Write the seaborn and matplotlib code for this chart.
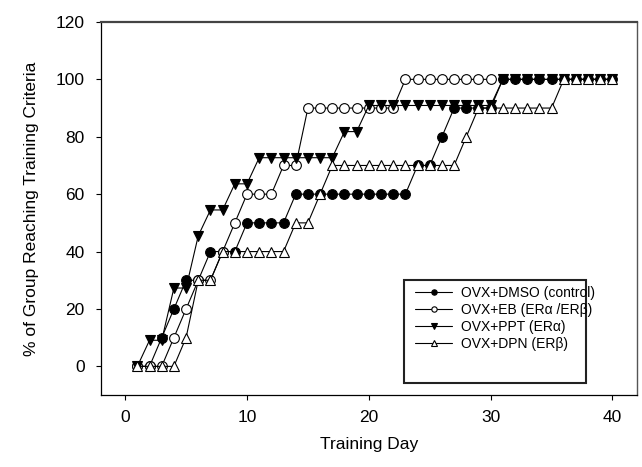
import matplotlib
matplotlib.use("Agg")
import matplotlib.pyplot as plt
from matplotlib.patches import Rectangle
import seaborn as sns

# training days (EB group was only followed up to day 30)
days_40 = [1, 2, 3, 4, 5, 6, 7, 8, 9, 10, 11, 12, 13, 14, 15, 16, 17, 18, 19, 20,
           21, 22, 23, 24, 25, 26, 27, 28, 29, 30, 31, 32, 33, 34, 35, 36, 37, 38, 39, 40]
days_30 = days_40[:30]

# % of group reaching training criteria
dmso = [0, 0, 10, 20, 30, 30, 40, 40, 40, 50, 50, 50, 50, 60, 60, 60, 60, 60, 60, 60,
        60, 60, 60, 70, 70, 80, 90, 90, 90, 90, 100, 100, 100, 100, 100, 100, 100, 100, 100, 100]
eb = [0, 0, 0, 10, 20, 30, 30, 40, 50, 60, 60, 60, 70, 70, 90, 90, 90, 90, 90, 90,
      90, 90, 100, 100, 100, 100, 100, 100, 100, 100]
ppt = [0, 9.1, 9.1, 27.3, 27.3, 45.5, 54.5, 54.5, 63.6, 63.6, 72.7, 72.7, 72.7, 72.7, 72.7,
       72.7, 72.7, 81.8, 81.8, 90.9, 90.9, 90.9, 90.9, 90.9, 90.9, 90.9, 90.9, 90.9, 90.9, 90.9,
       100, 100, 100, 100, 100, 100, 100, 100, 100, 100]
dpn = [0, 0, 0, 0, 10, 30, 30, 40, 40, 40, 40, 40, 40, 50, 50, 60, 70, 70, 70, 70,
       70, 70, 70, 70, 70, 70, 70, 80, 90, 90, 90, 90, 90, 90, 90, 100, 100, 100, 100, 100]

labels = ["OVX+DMSO (control)", "OVX+EB (ER\u03b1 /ER\u03b2)", "OVX+PPT (ER\u03b1)", "OVX+DPN (ER\u03b2)"]

sns.set_theme(style="ticks")
plt.rcParams["font.family"] = ["Liberation Sans", "DejaVu Sans"]
plt.rcParams["text.color"] = "black"
plt.rcParams["axes.labelcolor"] = "black"
plt.rcParams["xtick.color"] = "black"
plt.rcParams["ytick.color"] = "black"

fig = plt.figure(figsize=(6.42, 4.67), dpi=100)
ax = fig.add_axes([0.157, 0.154, 0.835, 0.799])

series = [
    (days_40, dmso, "o", "black"),
    (days_30, eb, "o", "white"),
    (days_40, ppt, "v", "black"),
    (days_40, dpn, "^", "white"),
]
for i, (x, y, m, fc) in enumerate(series):
    sns.lineplot(x=x, y=y, ax=ax, color="black", linewidth=0.8, marker=m,
                 markersize=7, markerfacecolor=fc, markeredgecolor="black",
                 markeredgewidth=0.8, label=labels[i], zorder=3 + i)

ax.set_xlim(-2, 42)
ax.set_ylim(-10, 120)
ax.set_xticks([0, 10, 20, 30, 40])
ax.set_yticks([0, 20, 40, 60, 80, 100, 120])
ax.tick_params(axis="both", labelsize=12.5, length=3.5, width=0.8, direction="out")
ax.tick_params(axis="y", pad=8)
ax.tick_params(axis="x", pad=7)
ax.set_xlabel("Training Day", fontsize=12.5, labelpad=9)
ax.set_ylabel("% of Group Reaching Training Criteria", fontsize=12.5, labelpad=12)

for side in ["left", "bottom"]:
    ax.spines[side].set_color("black")
    ax.spines[side].set_linewidth(0.9)
ax.spines["top"].set_color("#444444")
ax.spines["top"].set_linewidth(1.6)
ax.spines["right"].set_color("#555555")
ax.spines["right"].set_linewidth(1.0)

# legend box with the extra empty space at the bottom
ax.add_patch(Rectangle((0.5655, 0.032), 0.339, 0.276, transform=ax.transAxes,
                       facecolor="white", edgecolor="#222222", linewidth=1.5, zorder=10))
leg = ax.legend(loc="upper left", bbox_to_anchor=(0.586, 0.293), frameon=False,
                fontsize=10, markerscale=0.55, handlelength=2.7, handletextpad=0.6,
                labelspacing=0.22, borderpad=0, borderaxespad=0)
leg.set_zorder(11)

plt.savefig("out.png", dpi=100)
